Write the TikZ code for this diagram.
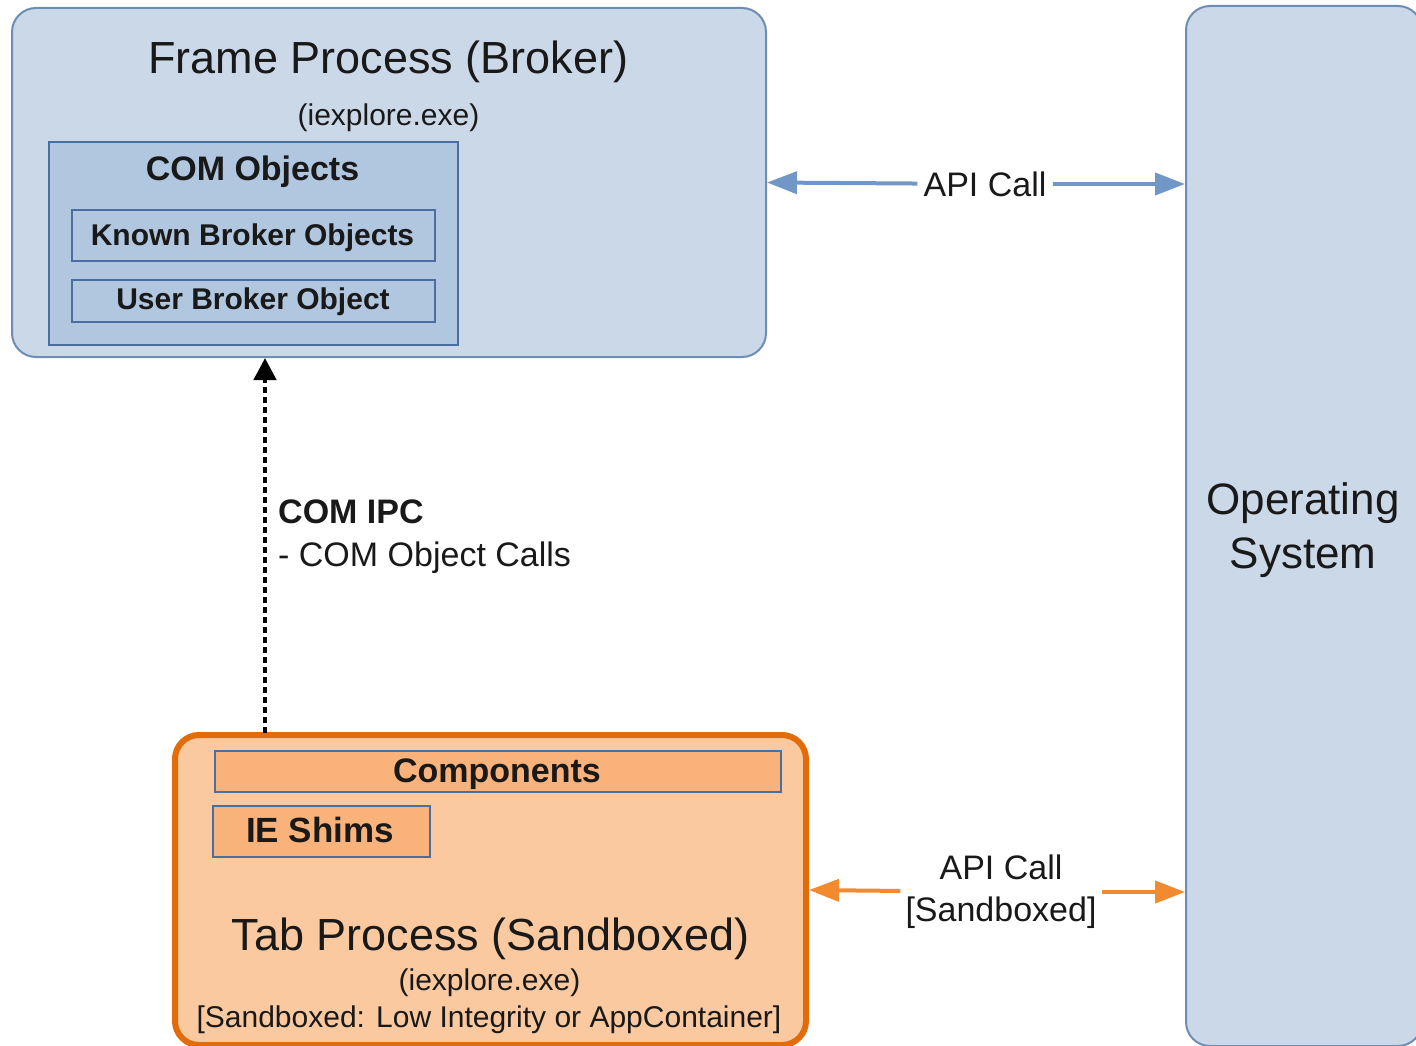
\documentclass[tikz,border=0pt]{standalone}
\usepackage{fontspec}
\setmainfont{Liberation Sans}
\usetikzlibrary{arrows.meta}
\definecolor{frameFill}{RGB}{202,216,232}
\definecolor{frameLine}{RGB}{110,141,181}
\definecolor{comFill}{RGB}{177,198,223}
\definecolor{comLine}{RGB}{74,110,160}
\definecolor{tabFill}{RGB}{250,201,160}
\definecolor{tabLine}{RGB}{226,107,10}
\definecolor{compFill}{RGB}{249,178,122}
\definecolor{blueArrow}{RGB}{113,151,198}
\definecolor{orangeArrow}{RGB}{242,138,48}
\definecolor{txt}{RGB}{25,25,25}
\newcommand{\fs}[1]{\fontsize{#1}{#1}\selectfont}
\tikzset{
  procbox/.style={rectangle, rounded corners=24pt, inner sep=0pt},
  innerbox/.style={rectangle, draw=comLine, line width=1.6pt, inner sep=0pt},
  txtnode/.style={inner sep=0pt, text=txt},
  apilabel/.style={text=txt, align=center},
  bluearr/.style={draw=blueArrow, line width=4pt, -{Triangle[length=30pt,width=22pt]}},
  orangearr/.style={draw=orangeArrow, line width=4pt, -{Triangle[length=30pt,width=22pt]}},
  ipcarr/.style={draw=black, line width=4.5pt, dash pattern=on 6pt off 4pt, -{Triangle[length=22pt,width=22pt]}}
}
\begin{document}
\begin{tikzpicture}[x=1pt,y=-1pt]
\useasboundingbox (0,0) rectangle (1416,1046);
\clip (0,0) rectangle (1416,1046);

% Operating system
\node[procbox, fill=frameFill, draw=frameLine, line width=2pt,
      minimum width=236pt, minimum height=1040pt] (os) at (1304,526) {};
\node[txtnode, anchor=base, font=\fs{44}] (os1) at (1303,514) {Operating};
\node[txtnode, anchor=base, font=\fs{44}] (os2) at (1303,568) {System};

% Frame process
\node[procbox, fill=frameFill, draw=frameLine, line width=2pt,
      minimum width=754pt, minimum height=349pt] (frame) at (389,182.5) {};
\node[txtnode, anchor=base, font=\fs{45}] (ftitle) at (388.5,74) {Frame Process (Broker)};
\node[txtnode, anchor=base, font=\fs{30}] (fexe) at (388.5,126) {(iexplore.exe)};
\node[innerbox, fill=comFill, line width=2pt, minimum width=409pt, minimum height=203pt] (com) at (253.5,243.5) {};
\node[txtnode, anchor=base, font=\bfseries\fs{34}] (comt) at (252.5,180) {COM Objects};
\node[innerbox, fill=comFill, minimum width=363pt, minimum height=51pt] (known) at (253.5,235.5) {};
\node[txtnode, anchor=base, font=\bfseries\fs{30}] (knownt) at (252.5,245) {Known Broker Objects};
\node[innerbox, fill=comFill, minimum width=363pt, minimum height=42pt] (user) at (253.5,301) {};
\node[txtnode, anchor=base, font=\bfseries\fs{30}] (usert) at (253,309) {User Broker Object};

% Tab process
\node[procbox, fill=tabFill, draw=tabLine, line width=6pt,
      minimum width=631pt, minimum height=310pt] (tab) at (490.5,890) {};
\node[innerbox, fill=compFill, minimum width=566pt, minimum height=41pt] (comp) at (498,771.5) {};
\node[txtnode, anchor=base, font=\bfseries\fs{34}] (compt) at (497,782) {Components};
\node[innerbox, fill=compFill, minimum width=217pt, minimum height=51pt] (shims) at (321.5,831.5) {};
\node[txtnode, anchor=base, font=\bfseries\fs{35}] (shimst) at (320,842) {IE Shims};
\node[txtnode, anchor=base, font=\fs{45}] (ttitle) at (490.5,950) {Tab Process (Sandboxed)};
\node[txtnode, anchor=base, font=\fs{30}] (texe) at (489.5,990) {(iexplore.exe)};
\node[txtnode, anchor=base, font=\fs{30}] (tsb) at (489,1027) {[Sandboxed: Low Integrity or AppContainer]};

% COM IPC
\coordinate (ipcstart) at (265,733);
\draw[ipcarr] (ipcstart) -- (ipcstart |- frame.south);
\node[txtnode, anchor=base west, font=\bfseries\fs{34}] (ipc1) at (278,523) {COM IPC};
\node[txtnode, anchor=base west, font=\fs{34}] (ipc2) at (278,566) {- COM Object Calls};

% API calls
\node[apilabel, inner sep=6pt, font=\fs{34}] (api1) at (985,184) {API Call};
\draw[bluearr] (api1) -- (frame.east);
\draw[bluearr] (api1) -- (api1 -| os.west);

\node[apilabel, inner sep=5pt, font=\fontsize{34}{42}\selectfont] (api2) at (1001,892)
  {API Call\\{}[Sandboxed]};
\draw[orangearr] (api2) -- (tab.east);
\draw[orangearr] (api2) -- (api2 -| os.west);
\end{tikzpicture}
\end{document}
